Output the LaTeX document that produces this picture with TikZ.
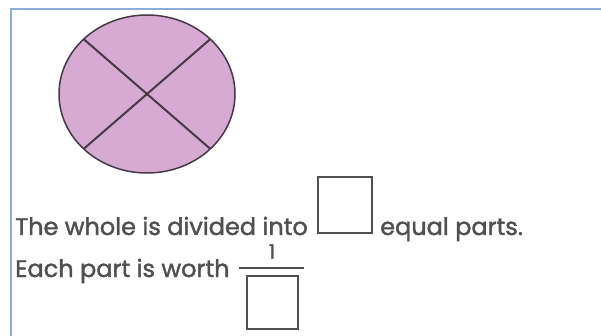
\documentclass[tikz,border=0pt]{standalone}
\usepackage{fontspec}
\setmainfont{Poppins}
\newfontfamily\sheetfont{Poppins}[FakeBold=1.6]
\usetikzlibrary{positioning}
\definecolor{sheetblue}{RGB}{140,172,218}
\definecolor{piefill}{RGB}{214,170,210}
\definecolor{pieedge}{RGB}{72,56,72}
\definecolor{inkgray}{RGB}{80,80,80}
\tikzset{
  frameline/.style={draw=sheetblue,line width=2.2pt},
  cutline/.style  ={draw=pieedge,line width=2pt},
  sheet/.style    ={font=\sheetfont\fontsize{24}{28}\selectfont,text=inkgray,inner sep=0pt,anchor=base west},
  answer/.style   ={draw=inkgray,line width=1.5pt,inner sep=0pt,minimum width=54pt,minimum height=56pt},
}

\begin{document}
\begin{tikzpicture}[x=1pt,y=-1pt]
  \useasboundingbox (0,0) rectangle (601,336);
  \fill[white] (0,0) rectangle (601,336);
  % worksheet frame
  \draw[frameline] (11,336) -- (11,9) -- (601,9);

  % the whole, cut in four
  \coordinate (c) at (147,94);
  \filldraw[fill=piefill,draw=pieedge,line width=1.5pt] (c) ellipse [x radius=88,y radius=79];
  \path (c) ++(136:88 and 79) coordinate (nw)
        (c) ++(44:88 and 79)  coordinate (ne)
        (c) ++(-44:88 and 79) coordinate (se)
        (c) ++(224:88 and 79) coordinate (sw);
  \draw[cutline] (nw) -- (se);
  \draw[cutline] (ne) -- (sw);

  % first sentence
  \node[sheet] (whole) at (15,235) {The whole is divided into};
  \node[answer] (parts) at (345,205) {};
  \node[sheet] (equal) at (380,235) {equal parts.};

  % second sentence
  \node[sheet] (worth) at (15,277) {Each part is worth};
  \node[font=\sheetfont\fontsize{20}{24}\selectfont,text=inkgray,inner sep=0pt] (one) at (272,251.5) {1};
  \coordinate (barl) at (239,268);
  \coordinate (barr) at (304,268);
  \draw[draw=inkgray,line width=1.5pt] (barl) -- (barr);
  \node[answer,minimum width=51pt,minimum height=53pt] (denom) at (272.5,302.5) {};
\end{tikzpicture}
\end{document}
